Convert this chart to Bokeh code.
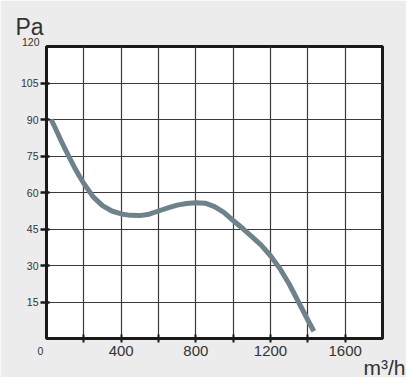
from bokeh.plotting import figure
from bokeh.models import Range1d, FixedTicker, Label, Title
from bokeh.embed import file_html
from bokeh.resources import INLINE

# Fan curve: airflow (m³/h) vs static pressure (Pa)
flow = [25, 50, 75, 100, 125, 150, 175, 200, 250, 300, 350, 400, 450, 500,
        550, 600, 650, 700, 750, 800, 850, 900, 950, 1000, 1050, 1100, 1150,
        1200, 1250, 1300, 1350, 1400, 1432]
pressure = [90, 86, 81.8, 77.8, 74, 70.3, 66.9, 63.7, 58.2, 54.6, 52.4, 51.2,
            50.6, 50.5, 51.1, 52.4, 53.7, 54.8, 55.5, 55.8, 55.6, 54.2, 51.8,
            48.5, 45.3, 41.9, 38.4, 34.0, 28.8, 22.4, 15.0, 7.6, 3.0]

x_ticks = [200, 400, 600, 800, 1000, 1200, 1400, 1600]
x_tick_labels = ["", "400", "", "800", "", "1200", "", "1600"]
y_ticks = [15, 30, 45, 60, 75, 90, 105]
y_tick_labels = ["15", "30", "45", "60", "75", "90", "105"]

BG = "#ececec"
TXT = "#333333"
FONT = "Liberation Sans"

p = figure(frame_width=336, frame_height=292, output_backend="svg",
           toolbar_location=None,
           x_range=Range1d(0, 1800), y_range=Range1d(0, 120),
           min_border_left=46, min_border_right=24, min_border_top=46,
           min_border_bottom=39)
p.background_fill_color = "white"
p.border_fill_color = BG
p.outline_line_color = "#1a1a1a"
p.outline_line_width = 3

# axes
p.xaxis.ticker = FixedTicker(ticks=x_ticks)
p.xaxis.major_label_overrides = dict(zip(x_ticks, x_tick_labels))
p.yaxis.ticker = FixedTicker(ticks=y_ticks)
p.yaxis.major_label_overrides = dict(zip(y_ticks, y_tick_labels))
for ax in (p.xaxis[0], p.yaxis[0]):
    ax.axis_line_color = "#1a1a1a"
    ax.axis_line_width = 3
    ax.major_tick_line_color = "#1a1a1a"
    ax.minor_tick_line_color = None
    ax.major_label_text_font = FONT
    ax.major_label_text_color = TXT
p.xaxis.major_tick_line_width = 2
p.xaxis.major_tick_out = 4
p.xaxis.major_tick_in = 4
p.xaxis.major_label_text_font_size = "15px"
p.xaxis.major_label_standoff = 3
p.yaxis.major_tick_line_width = 2.5
p.yaxis.major_tick_out = 6
p.yaxis.major_tick_in = 3
p.yaxis.major_label_text_font_size = "10.5px"
p.yaxis.major_label_standoff = 2

# grid
p.xgrid.grid_line_color = "#3a3a3a"
p.ygrid.grid_line_color = "#3a3a3a"
p.xgrid.grid_line_width = 1.2
p.ygrid.grid_line_width = 1.2

# curve
p.line(flow, pressure, line_color="#6e828c", line_width=5, line_join="round")

# extra texts, in side panels with spare room so they are not clipped
def lab(x, y, text, size, align, baseline, side):
    p.add_layout(Label(x=x, y=y, text=text,
                       text_font=FONT, text_font_size=size, text_color=TXT,
                       text_align=align, text_baseline=baseline), side)

lab(-166, 127.9, "Pa", "23px", "left", "alphabetic", "above")
lab(-37.5, 121.85, "120", "10.5px", "right", "middle", "right")
lab(-32, -5.1, "0", "10.5px", "center", "middle", "left")

unit = Title(text="m³/h", align="right", offset=-23, standoff=-10,
             vertical_align="bottom", text_font=FONT, text_font_size="21px",
             text_font_style="normal", text_color=TXT)
p.add_layout(unit, "below")

open("out.html", "w").write(file_html(p, INLINE))
